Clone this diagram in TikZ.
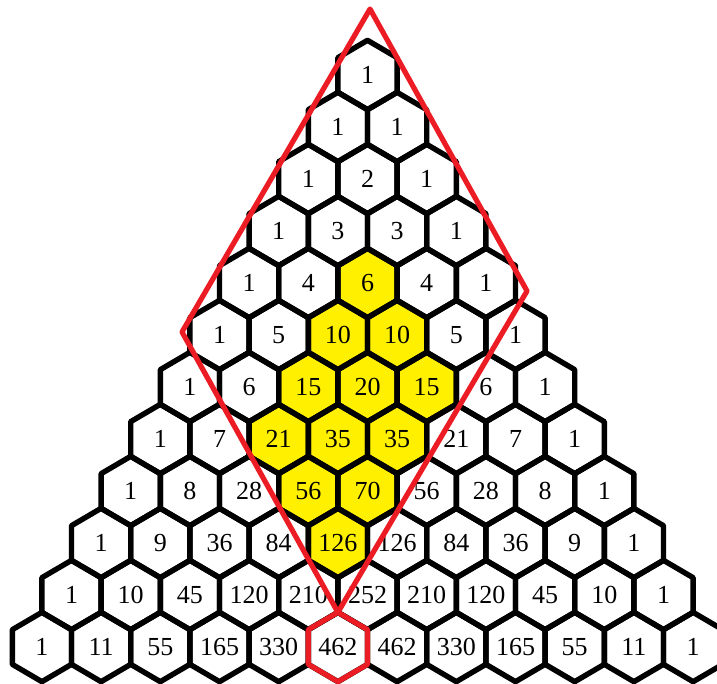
\documentclass[tikz,border=0pt]{standalone}
\usepackage{fontspec}
\setmainfont{Liberation Serif}
\usetikzlibrary{calc}
\definecolor{cellyellow}{RGB}{255,240,0}
\definecolor{rimred}{RGB}{236,28,36}
\begin{document}
\begin{tikzpicture}[x=1pt,y=-1pt,
  hexline/.style={draw=black,line width=5.4pt,line join=round},
  hexfill/.style={fill=cellyellow},
  redline/.style={draw=rimred,line width=5.2pt,line join=round},
  num/.style={inner sep=0pt,font=\fontsize{26}{30}\selectfont}]
\useasboundingbox (0,0) rectangle (717,684);
% yellow cells
\foreach \n/\k in {4/2,5/2,5/3,6/2,6/3,6/4,7/2,7/3,7/4,8/3,8/4,9/4}{
  \pgfmathsetmacro\cx{367.5+(\k-\n/2)*59.2}
  \pgfmathsetmacro\cy{75+52*\n}
  \fill[hexfill,shift={(\cx,\cy)}] (0,-34.67) -- (29.6,-17.33) -- (29.6,17.33) -- (0,34.67) -- (-29.6,17.33) -- (-29.6,-17.33) -- cycle;
}
% cells and numbers
\foreach \n/\vals in {0/{1},1/{1,1},2/{1,2,1},3/{1,3,3,1},4/{1,4,6,4,1},5/{1,5,10,10,5,1},
  6/{1,6,15,20,15,6,1},7/{1,7,21,35,35,21,7,1},8/{1,8,28,56,70,56,28,8,1},
  9/{1,9,36,84,126,126,84,36,9,1},10/{1,10,45,120,210,252,210,120,45,10,1},
  11/{1,11,55,165,330,462,462,330,165,55,11,1}}{
  \foreach \v [count=\c from 0] in \vals {
    \pgfmathsetmacro\cx{367.5+(\c-\n/2)*59.2}
    \pgfmathsetmacro\cy{75+52*\n}
    \draw[hexline,shift={(\cx,\cy)}] (0,-34.67) -- (29.6,-17.33) -- (29.6,17.33) -- (0,34.67) -- (-29.6,17.33) -- (-29.6,-17.33) -- cycle;
    \node[num] (h\n-\c) at (\cx,\cy) {\v};
  }
}
% red rhombus and red cell
\coordinate (A) at (370,9);
\coordinate (L) at (182,332);
\coordinate (R) at (527,291);
\coordinate (B) at ($(h11-5)+(0,-34.67)$);
\draw[redline] (A) -- (R) -- (B) -- (L) -- cycle;
\draw[redline,shift={(h11-5)}] (0,-34.67) -- (29.6,-17.33) -- (29.6,17.33) -- (0,34.67) -- (-29.6,17.33) -- (-29.6,-17.33) -- cycle;
\end{tikzpicture}
\end{document}
